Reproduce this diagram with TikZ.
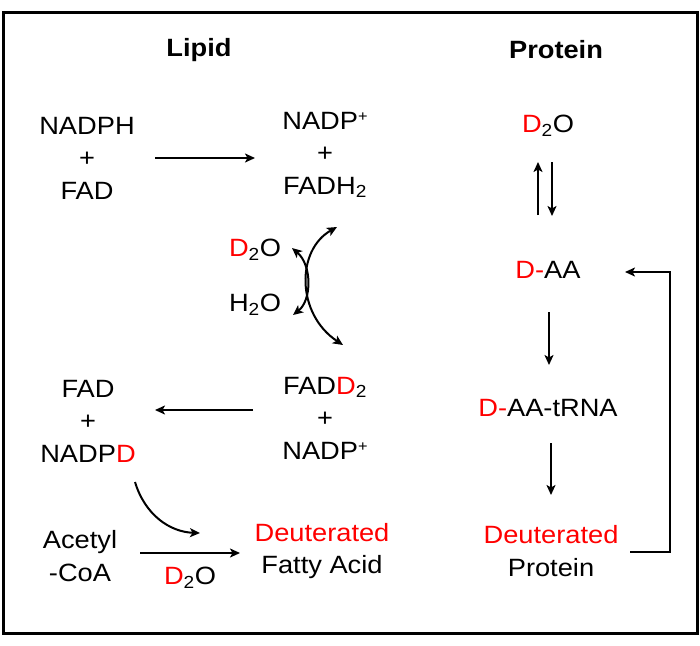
\documentclass[tikz,border=0pt]{standalone}
\usepackage{fontspec}
\setmainfont{Liberation Sans}[FakeStretch=1.09]
\usetikzlibrary{arrows.meta}
\definecolor{dred}{RGB}{255,0,0}
\newcommand{\rd}[1]{\textcolor{dred}{#1}}
\newcommand{\supp}[1]{\raisebox{0.55ex}{\fontsize{15}{15}\selectfont #1}}
\tikzset{
  lbl/.style={inner sep=0pt, align=center, font=\fontsize{25}{32.5}\selectfont},
  hdr/.style={inner sep=0pt, font=\fontsize{25}{30}\selectfont\bfseries},
  arr/.style={line width=2pt, -{Stealth[length=10pt,width=9pt,inset=2.5pt]}},
  darr/.style={line width=2pt, {Stealth[length=10pt,width=9pt,inset=2.5pt]}-{Stealth[length=10pt,width=9pt,inset=2.5pt]}},
  frame/.style={line width=3pt}
}
\begin{document}
\begin{tikzpicture}[x=1pt,y=-1pt]
\useasboundingbox (0,0) rectangle (700,645);
\draw[frame] (3,12) rectangle (697,633);

\node[hdr] (lipid) at (199,50) {Lipid};
\node[hdr] (prot) at (556,50) {Protein};

\node[lbl] (n1) at (87,158) {NADPH\\+\\FAD};
\node[lbl] (n2) at (325,155) {NADP\supp{+}\\+\\FADH\textsubscript{2}};
\node[lbl] (d2oL) at (255,250) {\rd{D}\textsubscript{2}O};
\node[lbl] (h2oL) at (255,305) {H\textsubscript{2}O};
\node[lbl] (n3) at (88,421) {FAD\\+\\NADP\rd{D}};
\node[lbl] (n4) at (325,418) {FAD\rd{D}\textsubscript{2}\\+\\NADP\supp{+}};
\node[lbl] (acetyl) at (80,556) {Acetyl\\-CoA};
\node[lbl] (fatty) at (322,551) {\rd{Deuterated}\\Fatty Acid};
\node[lbl] (d2oB) at (190,578) {\rd{D}\textsubscript{2}O};

\node[lbl] (pd2o) at (548,126) {\rd{D}\textsubscript{2}O};
\node[lbl] (daa) at (548,270) {\rd{D-}AA};
\node[lbl] (daat) at (548,408) {\rd{D-}AA-tRNA};
\node[lbl] (dprot) at (551,551) {\rd{Deuterated}\\Protein};

% lipid arrows
\coordinate (a1s) at (155,158); \coordinate (a1e) at (255,158);
\draw[arr] (a1s) -- (a1e);
\coordinate (cAs) at (292,248); \coordinate (cAe) at (293,315);
\draw[darr] (cAs) .. controls (312,265) and (312,300) .. (cAe);
\coordinate (cBs) at (337,227); \coordinate (cBe) at (343,345);
\draw[darr] (cBs) .. controls (296,250) and (296,314) .. (cBe);
\coordinate (a2s) at (253,410); \coordinate (a2e) at (155,410);
\draw[arr] (a2s) -- (a2e);
\coordinate (c3s) at (135,482); \coordinate (c3e) at (200,533);
\draw[arr] (c3s) .. controls (145,515) and (170,532) .. (c3e);
\coordinate (a3s) at (140,553); \coordinate (a3e) at (240,553);
\draw[arr] (a3s) -- (a3e);

% protein arrows
\coordinate (u1s) at (538,215); \coordinate (u1e) at (538,162);
\draw[arr] (u1s) -- (u1e);
\coordinate (d1s) at (552,162); \coordinate (d1e) at (552,216);
\draw[arr] (d1s) -- (d1e);
\coordinate (d2s) at (549,312); \coordinate (d2e) at (549,365);
\draw[arr] (d2s) -- (d2e);
\coordinate (d3s) at (551,443); \coordinate (d3e) at (551,495);
\draw[arr] (d3s) -- (d3e);
\coordinate (fbs) at (630,552); \coordinate (fbe) at (625,272);
\draw[arr] (fbs) -- (670,552) -- (670,272) -- (fbe);
\end{tikzpicture}
\end{document}
